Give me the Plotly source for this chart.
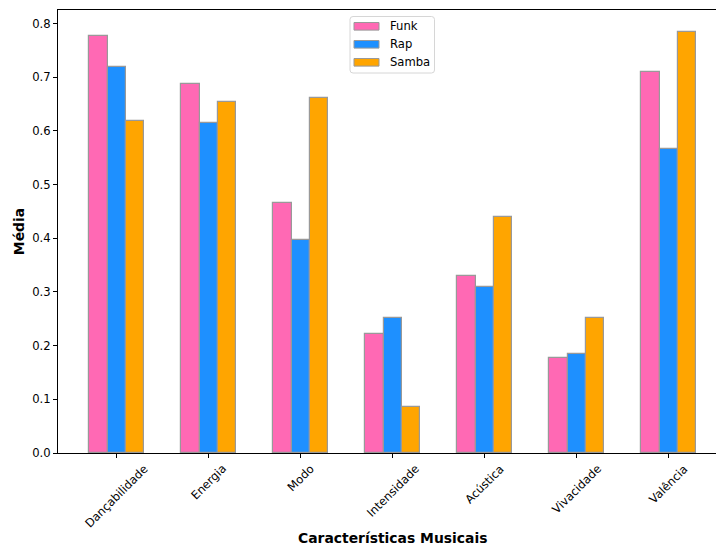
import plotly.graph_objects as go

# Mean audio features per genre
categorias = ["Dançabilidade", "Energia", "Modo", "Intensidade", "Acústica", "Vivacidade", "Valência"]
funk = [0.777, 0.688, 0.466, 0.222, 0.329, 0.177, 0.709]
rap = [0.720, 0.615, 0.397, 0.252, 0.309, 0.184, 0.567]
samba = [0.619, 0.653, 0.662, 0.086, 0.439, 0.251, 0.785]
y_ticks = [0.0, 0.1, 0.2, 0.3, 0.4, 0.5, 0.6, 0.7, 0.8]

series = [("Funk", funk, "#FF69B4"), ("Rap", rap, "#1E90FF"), ("Samba", samba, "#FFA500")]
offsets = [-0.2, 0.0, 0.2]
idx = list(range(len(categorias)))

FONT = "DejaVu Sans"
W, H = 716, 548
ML, MR, MT, MB = 58, 0, 10, 95
PW, PH = W - ML - MR, H - MT - MB
EDGE = "#999999"


def px(xp):
    return (xp - ML) / PW


def py(yp):
    return (H - MB - yp) / PH


fig = go.Figure()
for (name, vals, color), off in zip(series, offsets):
    fig.add_trace(go.Bar(
        x=[i + off for i in idx], y=vals, name=name, width=0.2, showlegend=False,
        marker=dict(color=color, line=dict(color=EDGE, width=1.2)),
    ))

# Category labels rotated 45 degrees, centered under each tick
for i, cat in zip(idx, categorias):
    fig.add_annotation(x=i, xref="x", y=0, yref="paper", text=cat, showarrow=False,
                       textangle=-45, xanchor="center", yanchor="top", yshift=-6,
                       font=dict(family=FONT, size=11.6, color="black"))

fig.add_annotation(x=0.5, xref="paper", y=0, yref="paper", text="<b>Características Musicais</b>",
                   showarrow=False, xanchor="center", yanchor="middle", yshift=-85, xshift=5,
                   font=dict(family=FONT, size=13.9, color="black"))

# Legend box with a patch and a label per genre
lx0, lx1, ly0, ly1, r = 350, 434.5, 16.5, 73, 3
rx, ry = r / PW, r / PH
a0, a1, b0, b1 = px(lx0), px(lx1), py(ly1), py(ly0)
path = (f"M {a0+rx},{b0} L {a1-rx},{b0} Q {a1},{b0} {a1},{b0+ry} L {a1},{b1-ry} "
        f"Q {a1},{b1} {a1-rx},{b1} L {a0+rx},{b1} Q {a0},{b1} {a0},{b1-ry} "
        f"L {a0},{b0+ry} Q {a0},{b0} {a0+rx},{b0} Z")
fig.add_shape(type="path", path=path, xref="paper", yref="paper",
              fillcolor="rgba(255,255,255,0.8)", line=dict(color="#d6d6d6", width=1))
for k, (name, vals, color) in enumerate(series):
    yc = 26.3 + k * 18.0
    fig.add_shape(type="rect", xref="paper", yref="paper",
                  x0=px(354), x1=px(379), y0=py(yc + 3.8), y1=py(yc - 3.8),
                  fillcolor=color, line=dict(color=EDGE, width=1))
    fig.add_annotation(x=px(388.5), y=py(yc), xref="paper", yref="paper", text=name,
                       showarrow=False, xanchor="left", yanchor="middle",
                       font=dict(family=FONT, size=11.6, color="black"))

fig.update_layout(
    width=W, height=H,
    margin=dict(l=ML, r=MR, t=MT, b=MB),
    paper_bgcolor="white", plot_bgcolor="white",
    barmode="overlay", bargap=0,
    font=dict(family=FONT, size=11.6, color="black"),
    xaxis=dict(range=[-0.638, 6.514], tickvals=idx, ticktext=[""] * len(idx),
               ticks="outside", ticklen=4, tickcolor="black", showgrid=False, zeroline=False,
               showline=True, linecolor="black", linewidth=1, mirror=True),
    yaxis=dict(range=[0, 0.8253], tickvals=y_ticks, tickformat=".1f",
               ticks="outside", ticklen=4, tickcolor="black", showgrid=False, zeroline=False,
               showline=True, linecolor="black", linewidth=1, mirror=False,
               title=dict(text="<b>Média</b>", font=dict(family=FONT, size=13.9, color="black"), standoff=4),
               tickfont=dict(family=FONT, size=11.6, color="black")),
)

fig.write_html("out.html")
